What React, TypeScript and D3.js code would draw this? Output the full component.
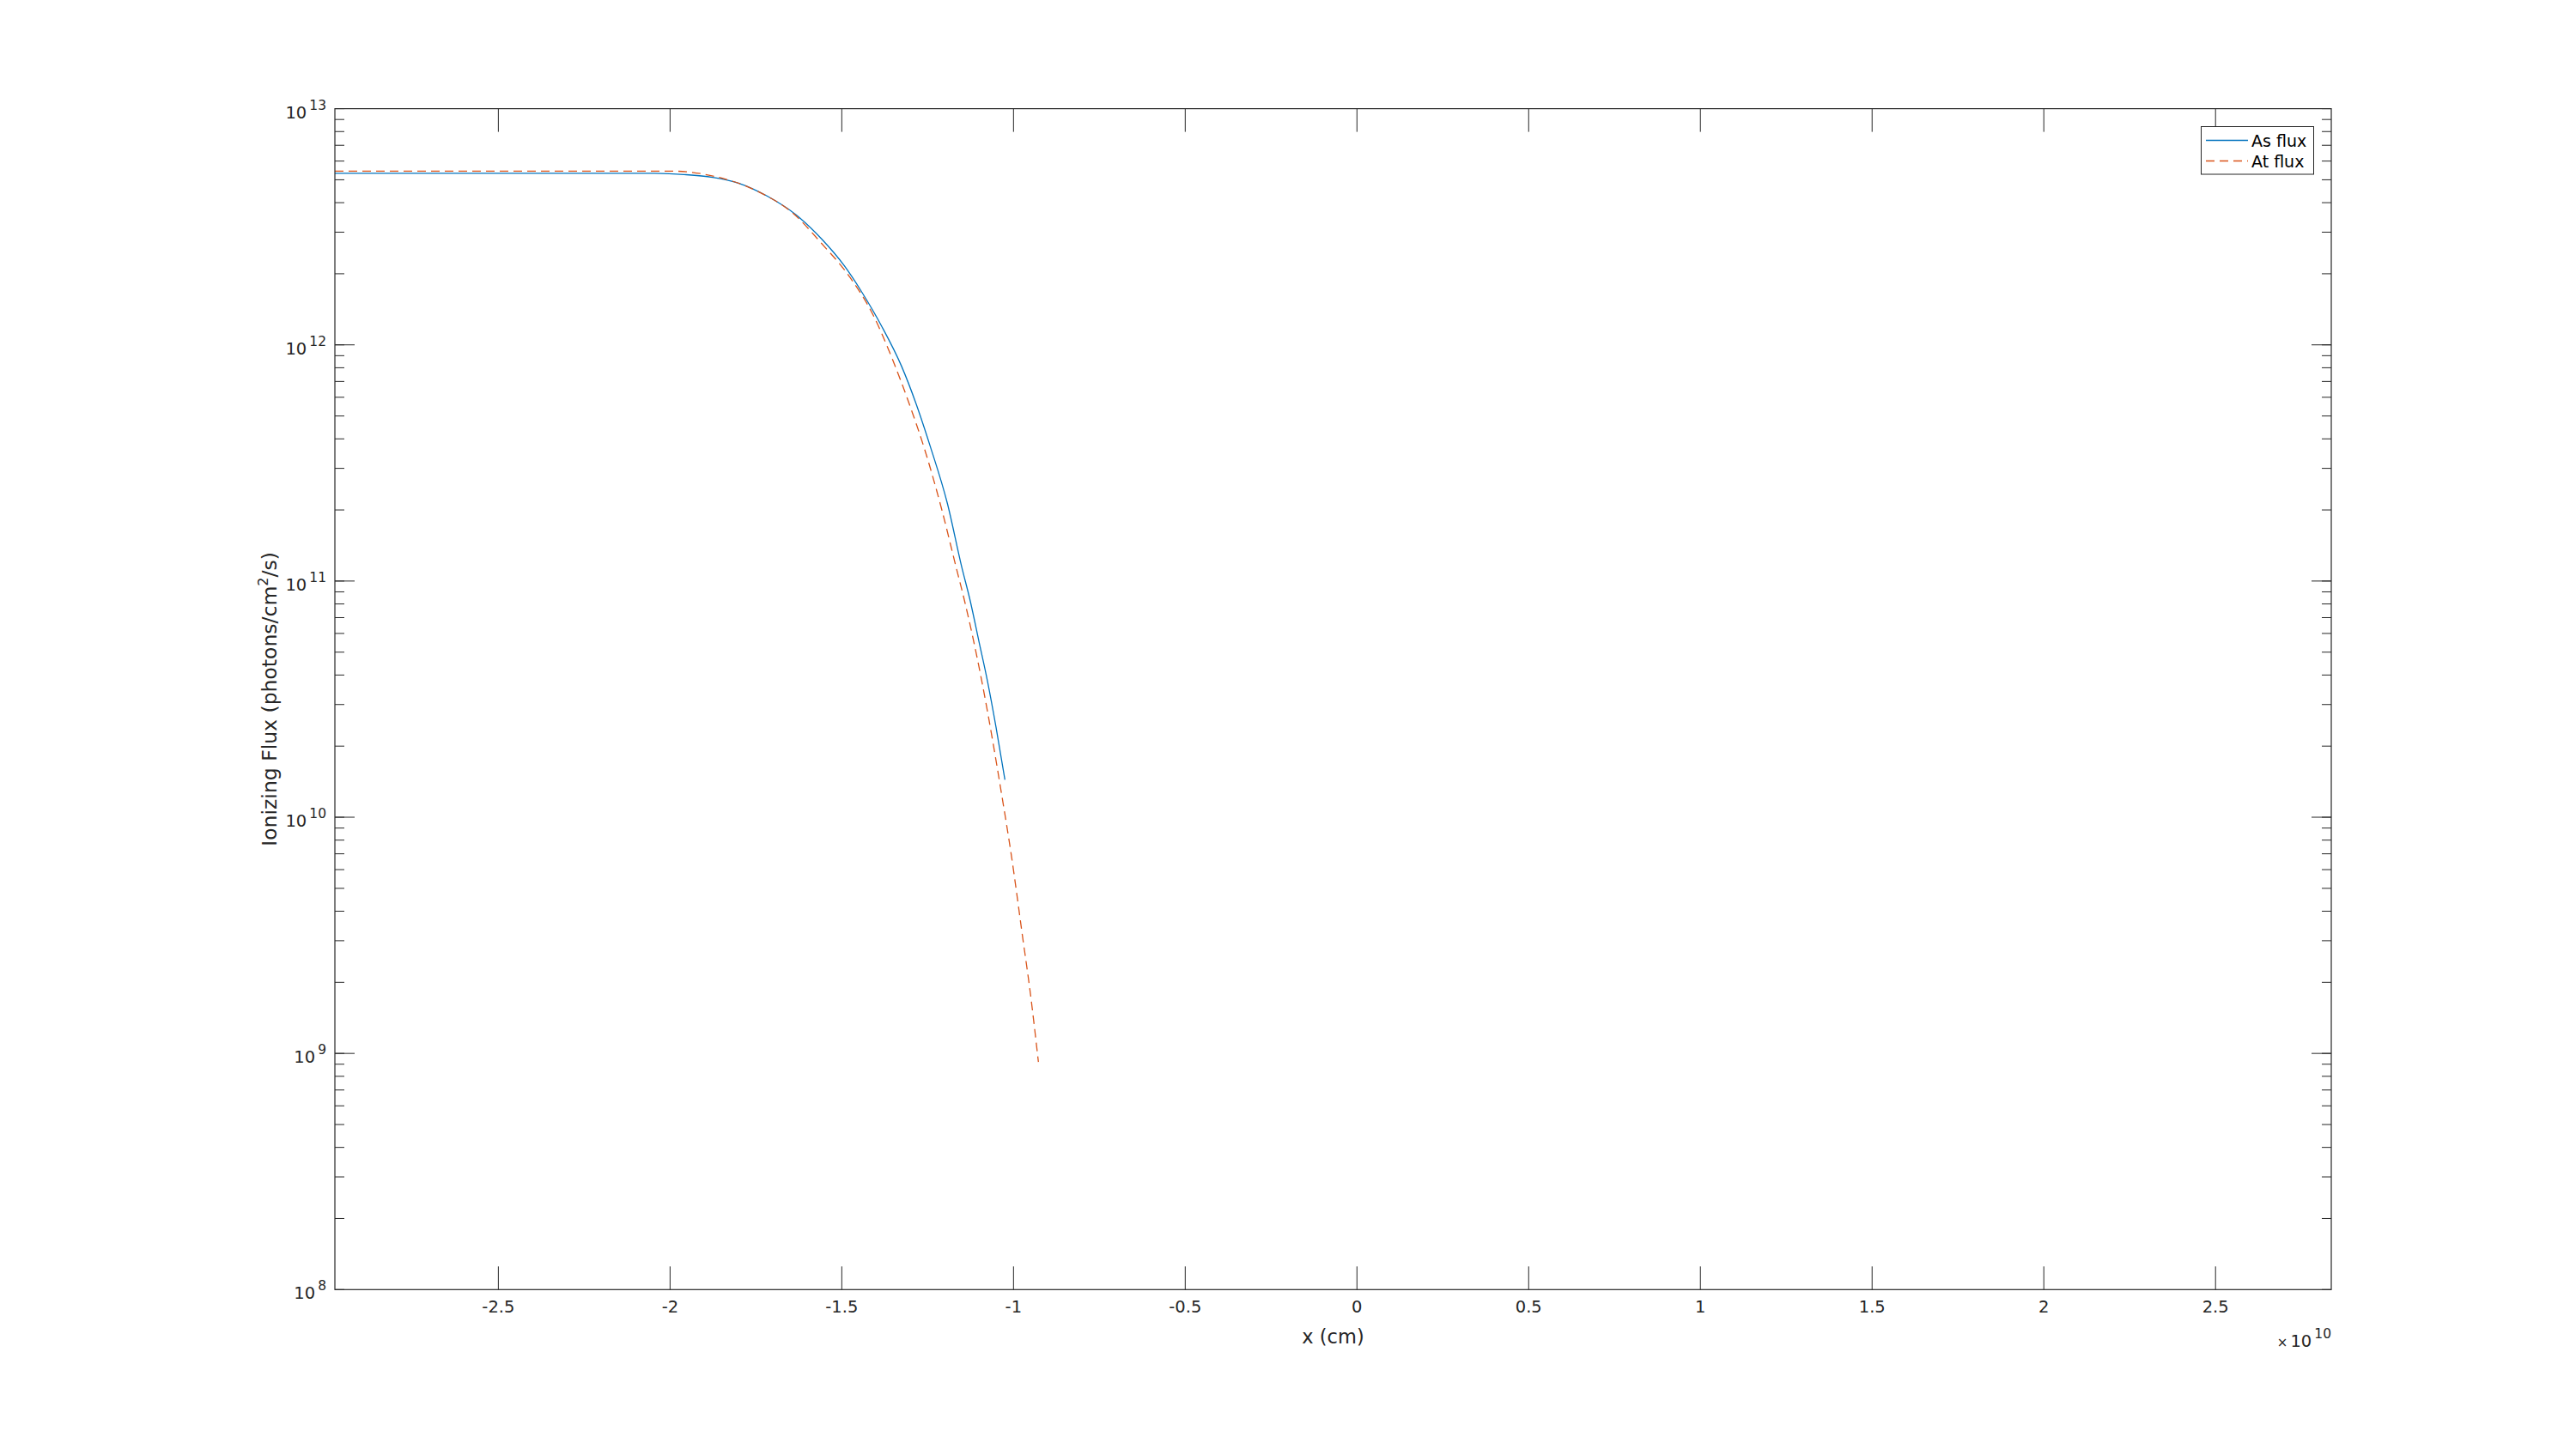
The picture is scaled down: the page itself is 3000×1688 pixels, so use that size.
import React, { useEffect, useRef } from 'react';
import * as d3 from 'd3';

// x positions in cm, flux in photons/cm^2/s
const asX = [-2.976e10, -2.076e10, -1.959e10, -1.876e10, -1.801e10, -1.718e10, -1.634e10, -1.559e10, -1.4925e10, -1.4425e10, -1.384e10, -1.326e10, -1.284e10, -1.2425e10, -1.1925e10, -1.151e10, -1.126e10, -1.101e10, -1.076e10, -1.051e10, -1.025e10];
const asFlux = [5.33e12, 5.33e12, 5.26e12, 5.12e12, 4.84e12, 4.27e12, 3.56e12, 2.81e12, 2.16e12, 1.68e12, 1.2e12, 8.12e11, 5.65e11, 3.72e11, 2.13e11, 1.15e11, 8.24e10, 5.58e10, 3.78e10, 2.41e10, 1.44e10];

const atX = [-2.976e10, -2.076e10, -1.9965e10, -1.884e10, -1.7425e10, -1.6425e10, -1.559e10, -1.476e10, -1.409e10, -1.351e10, -1.301e10, -1.259e10, -1.209e10, -1.1675e10, -1.1425e10, -1.0925e10, -1.059e10, -1.038e10, -1.005e10, -0.974e10, -0.951e10, -0.9275e10];
const atFlux = [5.44e12, 5.44e12, 5.44e12, 5.22e12, 4.45e12, 3.61e12, 2.69e12, 1.93e12, 1.34e12, 8.58e11, 5.49e11, 3.62e11, 2.01e11, 1.15e11, 8.24e10, 3.78e10, 2.04e10, 1.34e10, 6.7e9, 3.15e9, 1.8e9, 9.2e8];

const xTicks = [-2.5e10, -2e10, -1.5e10, -1e10, -0.5e10, 0, 0.5e10, 1e10, 1.5e10, 2e10, 2.5e10];
const xTickLabels = ['-2.5', '-2', '-1.5', '-1', '-0.5', '0', '0.5', '1', '1.5', '2', '2.5'];
const yDecades = [8, 9, 10, 11, 12, 13];

const seriesNames = ['As flux', 'At flux'];

export default function App() {
  const svgRef = useRef<SVGSVGElement>(null);

  useEffect(() => {
    const width = 3000;
    const height = 1688;
    const margin = { left: 390, right: 285, top: 126.6, bottom: 185.7 };
    const ink = '#262626';
    const font = '"DejaVu Sans", sans-serif';
    const blue = '#0072BD';
    const orange = '#D95319';

    d3.select(svgRef.current).selectAll('*').remove();
    const svg = d3.select(svgRef.current)
      .attr('width', width)
      .attr('height', height);

    const x = d3.scaleLinear()
      .domain([-2.976e10, 2.837e10])
      .range([margin.left, width - margin.right]);
    const y = d3.scaleLog()
      .domain([1e8, 1e13])
      .range([height - margin.bottom, margin.top]);

    const x0 = margin.left, x1 = width - margin.right;
    const y0 = height - margin.bottom, y1 = margin.top;

    // curves
    const line = d3.line<[number, number]>()
      .x(d => x(d[0]))
      .y(d => y(d[1]))
      .curve(d3.curveMonotoneX);

    const asData = asX.map((v, i) => [v, asFlux[i]] as [number, number]);
    const atData = atX.map((v, i) => [v, atFlux[i]] as [number, number]);

    svg.append('path')
      .attr('d', line(asData))
      .attr('fill', 'none')
      .attr('stroke', blue)
      .attr('stroke-width', 1.3);

    svg.append('path')
      .attr('d', line(atData))
      .attr('fill', 'none')
      .attr('stroke', orange)
      .attr('stroke-width', 1.3)
      .attr('stroke-dasharray', '10,6');

    // x ticks (bottom & top)
    const g = svg.append('g').attr('stroke', ink).attr('stroke-width', 1);
    xTicks.forEach(t => {
      g.append('line').attr('x1', x(t)).attr('x2', x(t)).attr('y1', y0).attr('y2', y0 - 27);
      g.append('line').attr('x1', x(t)).attr('x2', x(t)).attr('y1', y1).attr('y2', y1 + 27);
    });

    // y ticks: major at interior decades, minor at k*10^n
    yDecades.forEach(d => {
      const v = Math.pow(10, d);
      if (d > 8 && d < 13) {
        g.append('line').attr('x1', x0).attr('x2', x0 + 23).attr('y1', y(v)).attr('y2', y(v));
        g.append('line').attr('x1', x1).attr('x2', x1 - 23).attr('y1', y(v)).attr('y2', y(v));
      }
      if (d < 13) {
        for (let k = 1; k <= 9; k++) {
          const mv = k * v;
          g.append('line').attr('x1', x0).attr('x2', x0 + 11).attr('y1', y(mv)).attr('y2', y(mv));
          g.append('line').attr('x1', x1).attr('x2', x1 - 11).attr('y1', y(mv)).attr('y2', y(mv));
        }
      }
    });
    g.append('line').attr('x1', x0).attr('x2', x0 + 11).attr('y1', y(1e13)).attr('y2', y(1e13));
    g.append('line').attr('x1', x1).attr('x2', x1 - 11).attr('y1', y(1e13)).attr('y2', y(1e13));

    // axes box
    svg.append('rect')
      .attr('x', x0).attr('y', y1)
      .attr('width', x1 - x0).attr('height', y0 - y1)
      .attr('fill', 'none').attr('stroke', ink).attr('stroke-width', 1.2);

    // x tick labels
    svg.selectAll('text.xtick')
      .data(xTicks)
      .enter()
      .append('text')
      .attr('class', 'xtick')
      .attr('x', d => x(d))
      .attr('y', y0 + 27)
      .attr('text-anchor', 'middle')
      .attr('font-family', font)
      .attr('font-size', 19.5)
      .attr('fill', ink)
      .text((d, i) => xTickLabels[i]);

    // y tick labels 10^n
    yDecades.forEach(d => {
      const t = svg.append('text')
        .attr('x', 380)
        .attr('y', y(Math.pow(10, d)) + 11)
        .attr('text-anchor', 'end')
        .attr('font-family', font)
        .attr('font-size', 19.5)
        .attr('fill', ink);
      t.append('tspan').text('10');
      t.append('tspan').attr('font-size', 15.5).attr('dx', 3).attr('dy', -10).text(String(d));
    });

    // exponent multiplier
    const m = svg.append('text')
      .attr('x', 2715)
      .attr('y', 1569)
      .attr('text-anchor', 'end')
      .attr('font-family', font)
      .attr('font-size', 19.5)
      .attr('fill', ink);
    m.append('tspan').attr('font-size', 15).text('×');
    m.append('tspan').attr('dx', 3).text('10');
    m.append('tspan').attr('font-size', 15.5).attr('dx', 3).attr('dy', -10).text('10');

    // axis labels
    svg.append('text')
      .attr('x', (x0 + x1) / 2)
      .attr('y', 1565)
      .attr('text-anchor', 'middle')
      .attr('font-family', font)
      .attr('font-size', 22.5)
      .attr('fill', ink)
      .text('x (cm)');

    const yl = svg.append('text')
      .attr('transform', `translate(321.5,${(y0 + y1) / 2}) rotate(-90)`)
      .attr('text-anchor', 'middle')
      .attr('font-family', font)
      .attr('font-size', 23.5)
      .attr('fill', ink);
    yl.append('tspan').text('Ionizing Flux (photons/cm');
    yl.append('tspan').attr('font-size', 16).attr('dy', -10).text('2');
    yl.append('tspan').attr('dy', 10).text('/s)');

    // legend
    const lg = svg.append('g');
    lg.append('rect')
      .attr('x', 2563.5).attr('y', 147.5)
      .attr('width', 131).attr('height', 55.5)
      .attr('fill', '#fff').attr('stroke', ink).attr('stroke-width', 1);
    const rowY = [163.5, 187.5];
    const colors = [blue, orange];
    seriesNames.forEach((name, i) => {
      lg.append('line')
        .attr('x1', 2569).attr('x2', 2618)
        .attr('y1', rowY[i]).attr('y2', rowY[i])
        .attr('stroke', colors[i]).attr('stroke-width', 1.3)
        .attr('stroke-dasharray', i === 1 ? '10,6' : null);
      lg.append('text')
        .attr('x', 2622).attr('y', rowY[i] + 7)
        .attr('font-family', font).attr('font-size', 19)
        .attr('fill', '#000')
        .text(name);
    });
  }, []);

  return <svg ref={svgRef} style={{ position: 'absolute', left: 0, top: 0, background: '#fff' }}></svg>;
}
